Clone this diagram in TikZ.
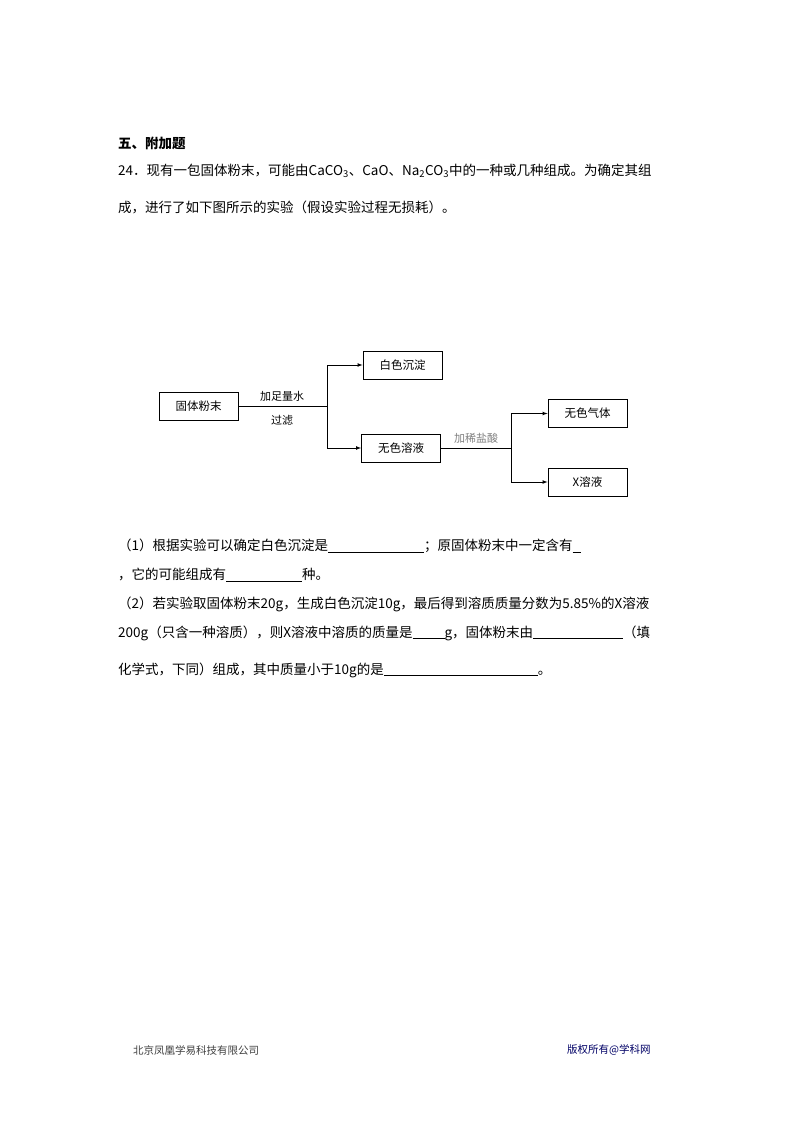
\documentclass[tikz,border=0pt]{standalone}
\usepackage{fontspec}
\setmainfont{Liberation Sans}
\newfontfamily\cjk{Noto Sans CJK SC}
\newcommand{\blank}[1]{\rule[-2pt]{#1pt}{0.6pt}}
\begin{document}
\begin{tikzpicture}[x=1pt,y=-1pt,
  bx/.style={draw,line width=0.9pt,minimum width=79pt,minimum height=28pt,inner sep=0pt,font=\cjk\fontsize{11.5}{12}\selectfont},
  lbl/.style={font=\cjk\fontsize{11}{12}\selectfont,inner sep=0pt},
  txt/.style={anchor=west,inner sep=0pt,font=\cjk\fontsize{13.5}{15}\selectfont},
  arr/.style={-latex,line width=0.7pt},
  ln/.style={line width=0.7pt}]
\useasboundingbox (0,0) rectangle (800,1132);
\fill[white] (0,0) rectangle (800,1132);
\node[txt,font=\cjk\bfseries\fontsize{13.5}{15}\selectfont] (t0) at (118,143) {五、附加题};
\node[txt] (t1) at (118,171) {24．现有一包固体粉末，可能由CaCO\textsubscript{3}、CaO、Na\textsubscript{2}CO\textsubscript{3}中的一种或几种组成。为确定其组};
\node[txt] (t2) at (118,207) {成，进行了如下图所示的实验（假设实验过程无损耗）。};
\node[bx] (a) at (198.5,406) {固体粉末};
\node[bx] (b) at (402.5,365) {白色沉淀};
\node[bx] (c) at (401,448) {无色溶液};
\node[bx] (d) at (587.5,413.5) {无色气体};
\node[bx] (e) at (587.5,482) {X溶液};
\coordinate (j1) at (327,406);
\coordinate (j2) at (511,448);
\draw[ln] (a.east) -- (j1);
\draw[arr] (j1) |- (b.west);
\draw[arr] (j1) |- (c.west);
\draw[ln] (c.east) -- (j2);
\draw[arr] (j2) |- (d.west);
\draw[arr] (j2) |- (e.west);
\node[lbl] (l1) at (282,396) {加足量水};
\node[lbl] (l2) at (282,420) {过滤};
\node[lbl,text=gray] (l3) at (476,438) {加稀盐酸};
\node[txt,text width=558pt,align=justify] (q1) at (118,546) {（1）根据实验可以确定白色沉淀是\blank{96}；原固体粉末中一定含有\blank{8}};
\node[txt] (q2) at (118,575) {，它的可能组成有\blank{76}种。};
\node[txt] (q3) at (118,604) {（2）若实验取固体粉末20g，生成白色沉淀10g，最后得到溶质质量分数为5.85\%的X溶液};
\node[txt] (q4) at (118,633) {200g（只含一种溶质），则X溶液中溶质的质量是\blank{32}g，固体粉末由\blank{90}（填};
\node[txt] (q5) at (118,670) {化学式，下同）组成，其中质量小于10g的是\blank{154}。};
\node[txt,font=\cjk\fontsize{10.5}{11}\selectfont,text=darkgray] (f1) at (133,1050) {北京凤凰学易科技有限公司};
\node[txt,font=\cjk\fontsize{10.5}{11}\selectfont,text=blue!40!black] (f2) at (567,1050) {版权所有@学科网};
\end{tikzpicture}
\end{document}
